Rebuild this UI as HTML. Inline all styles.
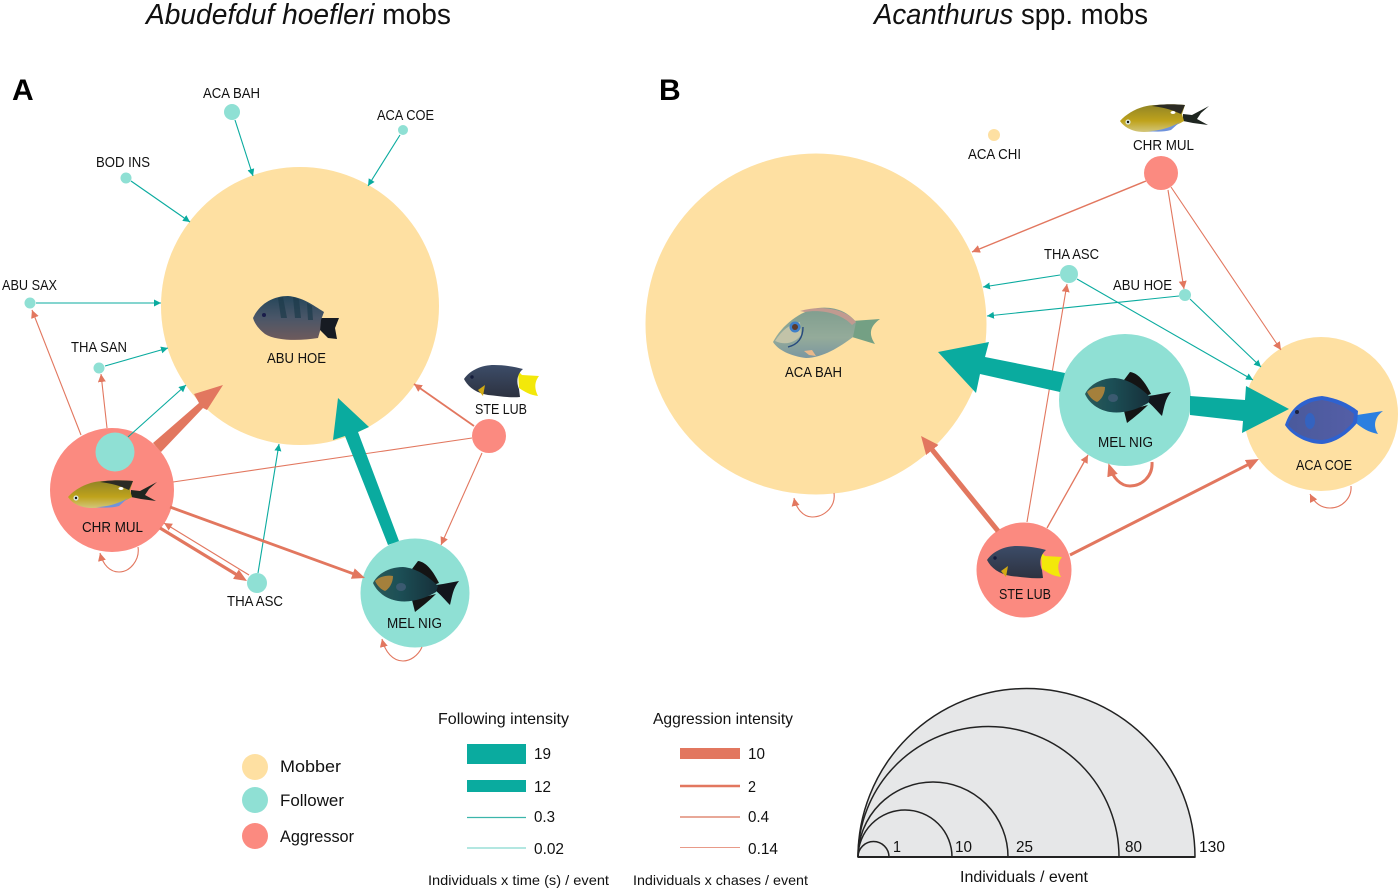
<!DOCTYPE html>
<html><head><meta charset="utf-8"><style>
html,body{margin:0;padding:0;background:#fff;width:1400px;height:891px;overflow:hidden}
svg{display:block}
text{font-family:"Liberation Sans",sans-serif;fill:#111}
.l{font-size:15px}
.n{font-size:16px}
.t{stroke:#0aab9f;stroke-width:1.100;fill:none}
.o{stroke:#e2775f;stroke-width:1.100;fill:none}
</style></head><body>
<svg width="1400" height="891" viewBox="0 0 1400 891" xmlns="http://www.w3.org/2000/svg">
<defs>
<marker id="t1" markerUnits="userSpaceOnUse" markerWidth="10" markerHeight="10" refX="7" refY="3.5" orient="auto"><path d="M0,0L7,3.5L0,7Z" fill="#0aab9f"/></marker>
<marker id="o1" markerUnits="userSpaceOnUse" markerWidth="12" markerHeight="12" refX="8" refY="4" orient="auto"><path d="M0,0L8,4L0,8Z" fill="#e2775f"/></marker>
<marker id="o2" markerUnits="userSpaceOnUse" markerWidth="18" markerHeight="14" refX="8" refY="5.500" orient="auto"><path d="M0,0L13,5.500L0,11Z" fill="#e2775f"/></marker>
<marker id="o3" markerUnits="userSpaceOnUse" markerWidth="24" markerHeight="20" refX="9" refY="8" orient="auto"><path d="M0,0L18,8L0,16Z" fill="#e2775f"/></marker>

<linearGradient id="gd" x1="0" y1="0" x2="0" y2="1"><stop offset="0" stop-color="#25465a"/><stop offset=".5" stop-color="#4a5668"/><stop offset="1" stop-color="#6e5a5c"/></linearGradient>
<linearGradient id="gc" x1="0" y1="0" x2="0" y2="1"><stop offset="0" stop-color="#8f8326"/><stop offset=".6" stop-color="#bfa31c"/><stop offset="1" stop-color="#d2c67a"/></linearGradient>
<linearGradient id="gm" x1="0" y1="0" x2="1" y2="0"><stop offset="0" stop-color="#2b5a58"/><stop offset=".4" stop-color="#1c4f56"/><stop offset="1" stop-color="#16303a"/></linearGradient>
<linearGradient id="gs" x1="0" y1="0" x2="0" y2="1"><stop offset="0" stop-color="#3c4c68"/><stop offset="1" stop-color="#2d3240"/></linearGradient>
<linearGradient id="gb" x1="0" y1="0" x2="0" y2="1"><stop offset="0" stop-color="#7f9d8e"/><stop offset=".6" stop-color="#94ab9a"/><stop offset="1" stop-color="#7b97a0"/></linearGradient>
<linearGradient id="gk" x1="0" y1="0" x2="1" y2="0"><stop offset="0" stop-color="#4a5a9c"/><stop offset="1" stop-color="#545ea6"/></linearGradient>

<g id="fchr">
<path d="M131,490 L140,491 L157,482 L149,489 L145,495 L156,501 L141,499 L131,497Z" fill="#1f2620"/>
<path d="M68,497 C76,488 90,481 104,481 C114,480 124,480 133,481 L130,490 L132,497 C122,503 108,508 92,508 C80,508 72,503 68,497Z" fill="url(#gc)"/>
<path d="M100,482 C108,480 120,480 133,481 L129,490 L122,487 C114,484 107,483 100,482Z" fill="#2c2b24"/>
<path d="M96,507 C108,507 120,503 128,498 L119,506 C112,508 104,508 96,507Z" fill="#6f93dc"/>
<circle cx="76" cy="498" r="2.600" fill="#d9e8e0"/><circle cx="76" cy="498" r="1.200" fill="#111"/>
<ellipse cx="121" cy="488.500" rx="2.500" ry="1.500" fill="#fff"/>
</g>
<g id="fmel">
<path d="M412,569 L418,561 C427,562 434,573 439,583 L431,586Z" fill="#141414"/>
<path d="M436,594 C428,602 420,608 415,612 L412,600Z" fill="#141414"/>
<path d="M436,585 L443,584 L459,581 C453,588 452,597 450,605 C445,600 440,594 436,591Z" fill="#12161c"/>
<path d="M373,583 C378,573 390,567 403,567 C416,568 428,576 438,586 L436,592 C426,598 412,603 398,601 C386,599 377,592 373,583Z" fill="url(#gm)"/>
<path d="M375,581 C380,576 388,575 393,576 C393,583 389,589 385,591 C380,589 377,585 375,581Z" fill="#a4803c"/>
<ellipse cx="401" cy="587" rx="5" ry="4" fill="#3b5a70"/>
</g>
<g id="fste">
<path d="M518,371 L522,375 L539,376 C536,380 533,386 538,396 C530,395 525,392 519,388Z" fill="#f3e80a"/>
<path d="M464,379 C470,370 482,365 494,365 C505,365 516,367 523,369 C517,374 516,382 519,389 L520,397 C510,398 498,396 488,395 C476,393 468,387 464,379Z" fill="url(#gs)"/>
<path d="M478,390 L485,385 L483,396Z" fill="#d1a913"/>
<circle cx="472" cy="377" r="1.700" fill="#141c3c"/>
</g>
</defs>

<rect width="1400" height="891" fill="#fff"/>

<!-- titles -->
<text x="146" y="24" font-size="29" textLength="305" lengthAdjust="spacingAndGlyphs"><tspan font-style="italic">Abudefduf hoefleri</tspan> mobs</text>
<text x="874" y="24" font-size="29" textLength="274" lengthAdjust="spacingAndGlyphs"><tspan font-style="italic">Acanthurus</tspan> spp. mobs</text>
<text x="12" y="100" font-size="30" font-weight="bold" style="fill:#000">A</text>
<text x="659" y="100" font-size="30" font-weight="bold" style="fill:#000">B</text>

<!-- PANEL A nodes -->
<circle cx="300" cy="306" r="139" fill="#fee0a2"/>
<circle cx="112" cy="490" r="62" fill="#fb8a80"/>
<circle cx="415" cy="593" r="54.500" fill="#8fe0d4"/>
<circle cx="489" cy="436" r="17" fill="#fb8a80"/>
<circle cx="257" cy="583" r="10" fill="#8fe0d4"/>
<circle cx="115" cy="452" r="19.500" fill="#8fe0d4"/>
<circle cx="30" cy="303" r="5.500" fill="#8fe0d4"/>
<circle cx="99" cy="368" r="5.500" fill="#8fe0d4"/>
<circle cx="126" cy="178" r="5.500" fill="#8fe0d4"/>
<circle cx="232" cy="112" r="8" fill="#8fe0d4"/>
<circle cx="403" cy="130" r="5" fill="#8fe0d4"/>

<!-- PANEL A edges -->
<line class="t" x1="36" y1="303" x2="161" y2="303" marker-end="url(#t1)"/>
<line class="t" x1="105" y1="366" x2="168" y2="348" marker-end="url(#t1)"/>
<line class="t" x1="128" y1="437" x2="186" y2="385" marker-end="url(#t1)"/>
<line class="t" x1="131" y1="181" x2="190" y2="222" marker-end="url(#t1)"/>
<line class="t" x1="235" y1="120" x2="253" y2="176" marker-end="url(#t1)"/>
<line class="t" x1="400" y1="135" x2="368" y2="186" marker-end="url(#t1)"/>
<line class="t" x1="258" y1="573" x2="279" y2="444" marker-end="url(#t1)"/>
<line class="o" x1="81" y1="435" x2="32" y2="310" marker-end="url(#o1)"/>
<line class="o" x1="107" y1="428" x2="101" y2="374" marker-end="url(#o1)"/>
<line class="o" x1="173" y1="482" x2="472" y2="438"/>
<line class="o" style="stroke-width:1.800" x1="474" y1="426" x2="414" y2="384" marker-end="url(#o1)"/>
<line class="o" x1="482" y1="453" x2="441" y2="545" marker-end="url(#o1)"/>
<line class="o" style="stroke-width:2.800" x1="170" y1="507" x2="360.300" y2="576.300" marker-end="url(#o2)"/>
<line class="o" style="stroke-width:3.200" x1="160" y1="528" x2="242.700" y2="578.400" marker-end="url(#o2)"/>
<line class="o" x1="249" y1="575" x2="164" y2="523" marker-end="url(#o1)"/>
<path class="o" d="M138,547 C140,560 130,572 119,572 C110,572 103,565 100,553" marker-end="url(#o1)"/>
<path class="o" d="M422,647 C418,656 410,661 403,661 C393,661 385,652 382,639" marker-end="url(#o1)"/>
<polygon points="153,443 199,403 194,394 223,385 207,410 203,408 161,452" fill="#e2775f"/>
<polygon points="388,545 399,541 358,432 369,427 338,398 333,440 345,436" fill="#0aab9f"/>

<!-- PANEL A fish -->
<g>
<path d="M318,318 L322,318 L339,318 L335,328 L337,339 L328,338 L320,330Z" fill="#171b22"/>
<path d="M253,318 C260,303 274,296 288,296 C302,297 313,305 324,312 L321,320 L320,331 L318,338 C300,341 276,341 265,334 C260,330 255,325 253,318Z" fill="url(#gd)"/>
<path d="M278,298 L283,297 L287,318 L281,318Z M293,297 L299,299 L301,318 L295,318Z M307,303 L312,306 L313,320 L308,320Z" fill="#1d3a4a" opacity=".7"/>
<circle cx="264" cy="315" r="2" fill="#1a1d4a"/>
</g>
<use href="#fchr"/>
<use href="#fmel"/>
<use href="#fste"/>

<!-- PANEL A labels -->
<text class="l" x="203" y="98" textLength="57" lengthAdjust="spacingAndGlyphs">ACA BAH</text>
<text class="l" x="377" y="120" textLength="57" lengthAdjust="spacingAndGlyphs">ACA COE</text>
<text class="l" x="96" y="167" textLength="54" lengthAdjust="spacingAndGlyphs">BOD INS</text>
<text class="l" x="2" y="290" textLength="55" lengthAdjust="spacingAndGlyphs">ABU SAX</text>
<text class="l" x="71" y="352" textLength="56" lengthAdjust="spacingAndGlyphs">THA SAN</text>
<text class="l" x="267" y="363" textLength="59" lengthAdjust="spacingAndGlyphs">ABU HOE</text>
<text class="l" x="475" y="414" textLength="52" lengthAdjust="spacingAndGlyphs">STE LUB</text>
<text class="l" x="82" y="532" textLength="61" lengthAdjust="spacingAndGlyphs">CHR MUL</text>
<text class="l" x="227" y="606" textLength="56" lengthAdjust="spacingAndGlyphs">THA ASC</text>
<text class="l" x="387" y="628" textLength="55" lengthAdjust="spacingAndGlyphs">MEL NIG</text>

<!-- PANEL B nodes -->
<circle cx="816" cy="324" r="170.500" fill="#fee0a2"/>
<circle cx="1321" cy="414" r="77" fill="#fee0a2"/>
<circle cx="1125" cy="400" r="66" fill="#8fe0d4"/>
<circle cx="1024" cy="570" r="47.500" fill="#fb8a80"/>
<circle cx="1161" cy="173" r="17" fill="#fb8a80"/>
<circle cx="1069" cy="274" r="9" fill="#8fe0d4"/>
<circle cx="1185" cy="295" r="6" fill="#8fe0d4"/>
<circle cx="994" cy="135" r="6" fill="#fee0a2"/>

<!-- PANEL B edges -->
<line class="o" style="stroke-width:1.400" x1="1146" y1="181" x2="972" y2="252" marker-end="url(#o1)"/>
<line class="o" x1="1168" y1="190" x2="1184" y2="289" marker-end="url(#o1)"/>
<line class="o" x1="1171" y1="187" x2="1281" y2="350" marker-end="url(#o1)"/>
<line class="t" x1="1060" y1="275" x2="983" y2="287" marker-end="url(#t1)"/>
<line class="t" x1="1077" y1="279" x2="1253" y2="380" marker-end="url(#t1)"/>
<line class="t" x1="1179" y1="296" x2="987" y2="316" marker-end="url(#t1)"/>
<line class="t" x1="1190" y1="299" x2="1261" y2="367" marker-end="url(#t1)"/>
<line class="o" x1="1027" y1="522" x2="1067" y2="284" marker-end="url(#o1)"/>
<line class="o" style="stroke-width:1.300" x1="1047" y1="528" x2="1088" y2="455" marker-end="url(#o1)"/>
<line class="o" style="stroke-width:3" x1="1070" y1="555" x2="1254.500" y2="461.300" marker-end="url(#o2)"/>
<line class="o" style="stroke-width:5" x1="998" y1="531" x2="926.700" y2="443" marker-end="url(#o3)"/>
<path class="o" style="stroke-width:3" d="M1152,462 C1153,476 1142,486 1130,486 C1120,486 1113,477 1110,468" marker-end="url(#o2)"/>
<path class="o" d="M1351,486 C1352,498 1342,508 1330,508 C1320,508 1314,502 1310,494" marker-end="url(#o1)"/>
<path class="o" d="M834,493 C836,507 824,517 812,517 C803,517 796,508 794,498" marker-end="url(#o1)"/>
<polygon points="1065,373 985,357 989,342 938,352 976,393 980,374 1060,392" fill="#0aab9f"/>
<polygon points="1190,396 1245,400 1246,386 1289,409 1242,433 1243,421 1190,415" fill="#0aab9f"/>

<!-- PANEL B fish -->
<use href="#fchr" transform="translate(1052,-376)"/>
<use href="#fmel" transform="translate(712,-189)"/>
<use href="#fste" transform="translate(523,181)"/>
<g>
<path d="M852,321 L880,319 C872,325 867,332 875,344 L852,337Z" fill="#74a084"/>
<path d="M773,342 C782,325 800,311 818,308 C835,306 848,312 856,322 L853,337 C840,347 822,358 806,358 C790,356 778,350 773,342Z" fill="url(#gb)"/>
<path d="M800,311 C820,305 845,308 856,322 L852,325 C842,314 822,309 805,312Z" fill="#c19a90"/>
<path d="M775,341 C782,330 790,324 800,322 L801,335 C796,342 786,346 775,341Z" fill="#c2c3a8"/>
<circle cx="795" cy="327" r="5.500" fill="#3f7fc8"/><circle cx="795" cy="327" r="3" fill="#5c3a2c"/>
<path d="M803,327 C803,340 796,345 788,347" stroke="#274a7e" stroke-width="1.400" fill="none"/>
<path d="M804,351 L812,350 L816,356 L809,355Z" fill="#eab88a"/>
</g>
<g>
<path d="M1357,415 L1383,411 C1376,416 1372,424 1378,434 C1368,432 1362,428 1356,423Z" fill="#2b7fe0"/>
<path d="M1285,425 C1290,410 1300,398 1322,396 C1336,398 1348,403 1358,411 L1357,423 C1348,434 1335,443 1322,444 C1308,444 1292,436 1285,425Z" fill="#2e62d0"/>
<path d="M1288,425 C1293,412 1303,402 1322,400 C1335,402 1346,407 1354,414 L1353,422 C1345,432 1333,439 1322,440 C1308,440 1296,434 1288,425Z" fill="url(#gk)"/>
<ellipse cx="1310" cy="421" rx="5" ry="8" fill="#3463c0"/>
<circle cx="1297" cy="412" r="2" fill="#1c2240"/>
</g>

<!-- PANEL B labels -->
<text class="l" x="968" y="159" textLength="53" lengthAdjust="spacingAndGlyphs">ACA CHI</text>
<text class="l" x="1133" y="150" textLength="61" lengthAdjust="spacingAndGlyphs">CHR MUL</text>
<text class="l" x="1044" y="259" textLength="55" lengthAdjust="spacingAndGlyphs">THA ASC</text>
<text class="l" x="1113" y="290" textLength="59" lengthAdjust="spacingAndGlyphs">ABU HOE</text>
<text class="l" x="785" y="377" textLength="57" lengthAdjust="spacingAndGlyphs">ACA BAH</text>
<text class="l" x="1098" y="447" textLength="55" lengthAdjust="spacingAndGlyphs">MEL NIG</text>
<text class="l" x="1296" y="470" textLength="56" lengthAdjust="spacingAndGlyphs">ACA COE</text>
<text class="l" x="999" y="599" textLength="52" lengthAdjust="spacingAndGlyphs">STE LUB</text>

<!-- legend: roles -->
<circle cx="255" cy="767" r="13" fill="#fee0a2"/>
<circle cx="255" cy="800" r="13" fill="#8fe0d4"/>
<circle cx="255" cy="836" r="13" fill="#fb8a80"/>
<text x="280" y="772" font-size="17" textLength="61" lengthAdjust="spacingAndGlyphs">Mobber</text>
<text x="280" y="806" font-size="17" textLength="64" lengthAdjust="spacingAndGlyphs">Follower</text>
<text x="280" y="842" font-size="17" textLength="74" lengthAdjust="spacingAndGlyphs">Aggressor</text>

<!-- legend: following -->
<text x="438" y="724" font-size="16" textLength="131" lengthAdjust="spacingAndGlyphs">Following intensity</text>
<rect x="467" y="744" width="59" height="20" fill="#0aab9f"/>
<rect x="467" y="780" width="59" height="12" fill="#0aab9f"/>
<line x1="467" y1="817.500" x2="526" y2="817.500" stroke="#3cb5ab" stroke-width="1.200"/>
<line x1="467" y1="848" x2="526" y2="848" stroke="#9adfd7" stroke-width="1.500"/>
<text class="n" x="534" y="759" textLength="17" lengthAdjust="spacingAndGlyphs">19</text>
<text class="n" x="534" y="792" textLength="17" lengthAdjust="spacingAndGlyphs">12</text>
<text class="n" x="534" y="822" textLength="21" lengthAdjust="spacingAndGlyphs">0.3</text>
<text class="n" x="534" y="854" textLength="30" lengthAdjust="spacingAndGlyphs">0.02</text>
<text x="428" y="885" font-size="14" textLength="181" lengthAdjust="spacingAndGlyphs">Individuals x time (s) / event</text>

<!-- legend: aggression -->
<text x="653" y="724" font-size="16" textLength="140" lengthAdjust="spacingAndGlyphs">Aggression intensity</text>
<rect x="680" y="748" width="60" height="11" fill="#e2775f"/>
<line x1="680" y1="786" x2="740" y2="786" stroke="#e2775f" stroke-width="2.500"/>
<line x1="680" y1="817" x2="740" y2="817" stroke="#e8a898" stroke-width="2"/>
<line x1="680" y1="847.500" x2="740" y2="847.500" stroke="#e89a88" stroke-width="1.100"/>
<text class="n" x="748" y="759" textLength="17" lengthAdjust="spacingAndGlyphs">10</text>
<text class="n" x="748" y="792" textLength="8" lengthAdjust="spacingAndGlyphs">2</text>
<text class="n" x="748" y="822" textLength="21" lengthAdjust="spacingAndGlyphs">0.4</text>
<text class="n" x="748" y="854" textLength="30" lengthAdjust="spacingAndGlyphs">0.14</text>
<text x="633" y="885" font-size="14" textLength="175" lengthAdjust="spacingAndGlyphs">Individuals x chases / event</text>

<!-- size scale -->
<g fill="none" stroke="#222" stroke-width="1.500">
<path d="M858,857 A168.500,168.500 0 0 1 1195,857 Z" fill="#e6e7e8"/>
<path d="M858,857 A130.500,130.500 0 0 1 1119,857"/>
<path d="M858,857 A75,75 0 0 1 1008,857"/>
<path d="M858,857 A47,47 0 0 1 952,857"/>
<path d="M858,857 A15.500,15.500 0 0 1 889,857"/>
<line x1="858" y1="857" x2="1195" y2="857" stroke-width="2"/>
</g>
<text class="n" x="893" y="852" textLength="8" lengthAdjust="spacingAndGlyphs">1</text>
<text class="n" x="955" y="852" textLength="17" lengthAdjust="spacingAndGlyphs">10</text>
<text class="n" x="1016" y="852" textLength="17" lengthAdjust="spacingAndGlyphs">25</text>
<text class="n" x="1125" y="852" textLength="17" lengthAdjust="spacingAndGlyphs">80</text>
<text class="n" x="1199" y="852" textLength="26" lengthAdjust="spacingAndGlyphs">130</text>
<text x="960" y="882" font-size="15.500" textLength="128" lengthAdjust="spacingAndGlyphs">Individuals / event</text>
</svg>
</body></html>
